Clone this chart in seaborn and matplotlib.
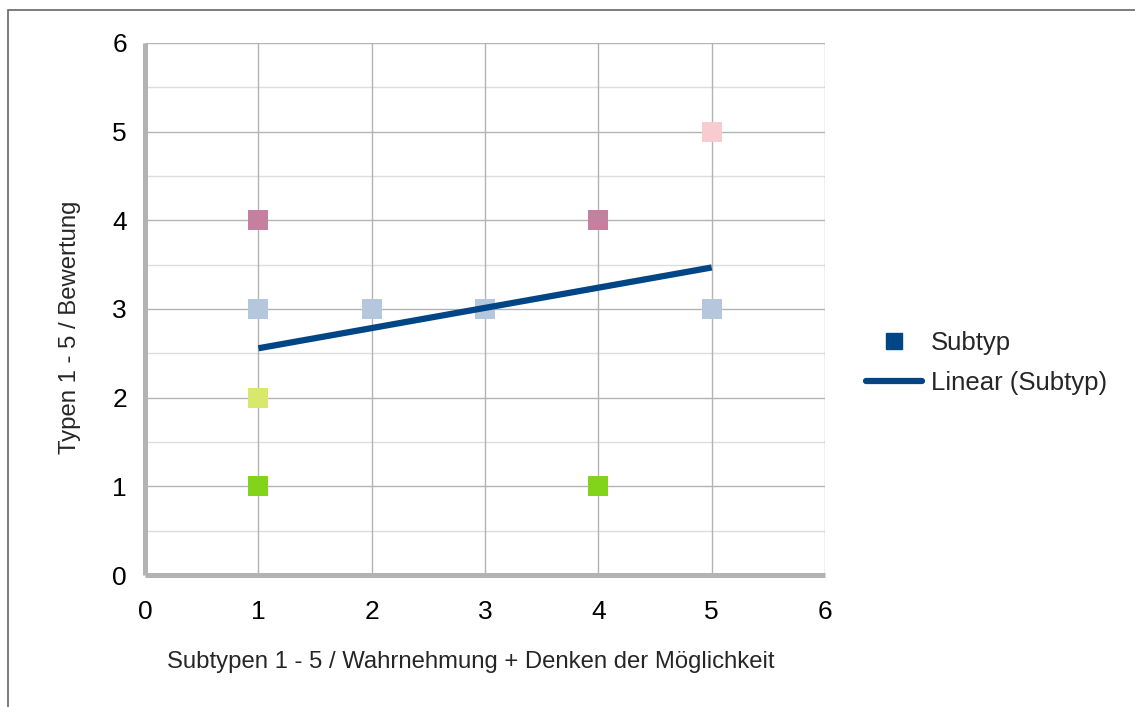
import matplotlib
matplotlib.use("Agg")
import matplotlib.pyplot as plt
import seaborn as sns
import pandas as pd
from matplotlib.patches import Rectangle
from matplotlib.lines import Line2D

# data (one hidden duplicate at (1,3))
subtyp = [1, 1, 1, 1, 1, 2, 3, 4, 4, 5, 5]
typ = [3, 4, 3, 2, 1, 3, 3, 4, 1, 5, 3]
point_colors = ["#004586", "#c5809f", "#b4c7dc", "#d7e86a", "#81d41a",
                "#b4c7dc", "#b4c7dc", "#c5809f", "#81d41a", "#f8cbd1", "#b4c7dc"]

x_ticks = [0, 1, 2, 3, 4, 5, 6]
y_ticks = [0, 1, 2, 3, 4, 5, 6]

df = pd.DataFrame({"x": subtyp, "y": typ, "c": point_colors})

sns.set_style("white")
plt.rcParams["font.family"] = ["Liberation Sans", "DejaVu Sans"]

fig = plt.figure(figsize=(11.35, 7.07), dpi=100)
ax = fig.add_axes([0.1278, 0.1867, 0.5991, 0.7525])

# gridlines
for v in y_ticks:
    ax.axhline(v, color="#b3b3b3", lw=1, zorder=0)
for v in [0.5, 1.5, 2.5, 3.5, 4.5, 5.5]:
    ax.axhline(v, color="#dddddd", lw=1, zorder=0)
for v in x_ticks:
    ax.axvline(v, color="#b3b3b3", lw=1, zorder=0)

sns.scatterplot(data=df, x="x", y="y", hue="c", palette={c: c for c in set(point_colors)},
                marker="s", s=210, linewidth=0, legend=False, ax=ax, zorder=3)

sns.regplot(data=df, x="x", y="y", scatter=False, ci=None, truncate=True,
            line_kws={"color": "#004586", "lw": 4.5, "solid_capstyle": "butt", "zorder": 4},
            ax=ax)

ax.set_xlim(0, 6)
ax.set_ylim(0, 6)
ax.set_xticks(x_ticks)
ax.set_yticks(y_ticks)
ax.tick_params(axis="both", direction="out", length=5, width=3.6, color="#b3b3b3",
               labelsize=19, labelcolor="black")
ax.tick_params(axis="x", pad=13)
ax.tick_params(axis="y", pad=8)

for side in ["top", "right"]:
    ax.spines[side].set_visible(False)
for side in ["left", "bottom"]:
    ax.spines[side].set_color("#b3b3b3")
    ax.spines[side].set_linewidth(3.6)
    ax.spines[side].set_capstyle("butt")

ax.set_xlabel("Subtypen 1 - 5 / Wahrnehmung + Denken der Möglichkeit", fontsize=17.2)
ax.set_ylabel("Typen 1 - 5 / Bewertung", fontsize=17.2)
ax.xaxis.set_label_coords(0.479, -0.143)
ax.yaxis.set_label_coords(-0.094, 0.466)

handles = [
    Line2D([], [], marker="s", color="#004586", ls="none", markersize=11),
    Line2D([], [], color="#004586", lw=4.5),
]
fig.legend(handles, ["Subtyp", "Linear (Subtyp)"], loc="center left",
           bbox_to_anchor=(0.743, 0.487), frameon=False, fontsize=18.5,
           handlelength=2.15, handletextpad=0.37, labelspacing=0.62)

# outer frame (only left and top edges visible)
fig.patches.append(Rectangle((8 / 1135, -0.1), 1.2, (707 - 10) / 707 + 0.1,
                             transform=fig.transFigure, fill=False,
                             edgecolor="#666666", lw=1.2))

fig.savefig("out.png", dpi=100)
